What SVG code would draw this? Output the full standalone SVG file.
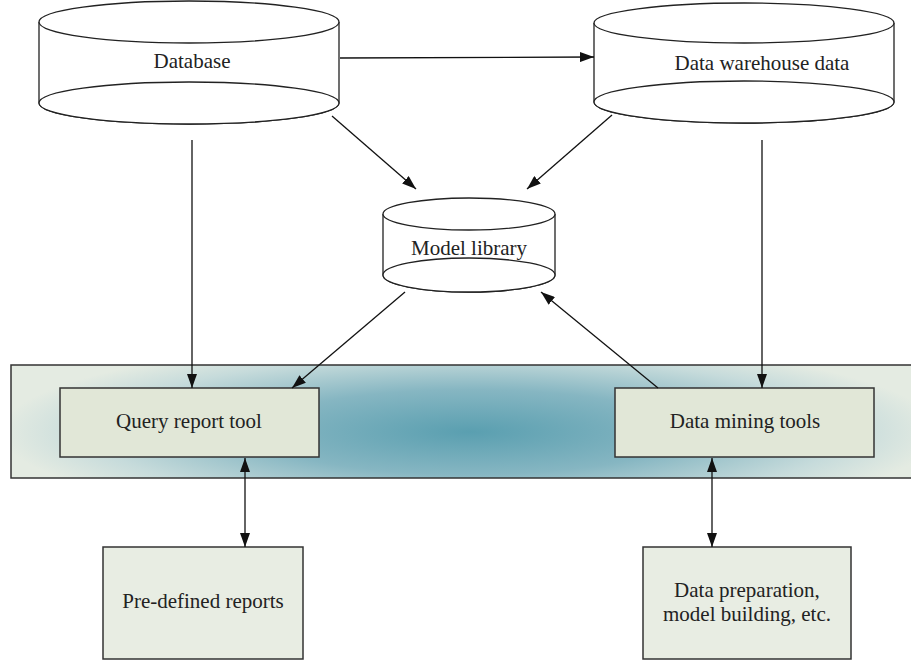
<svg xmlns="http://www.w3.org/2000/svg" width="911" height="663" viewBox="0 0 911 663">
<style>
.cyl{fill:#fff;stroke:#222;stroke-width:1.3}
.box{fill:#e1e7d7;stroke:#333;stroke-width:1.5}
.box2{fill:#e8ede3;stroke:#333;stroke-width:1.5}
.t{font-family:"Liberation Serif","Times New Roman",serif;font-size:21px;fill:#222;text-anchor:middle}
.c{stroke:#111;stroke-width:1.3;fill:none}
</style>
<defs>
<marker id="ah" viewBox="0 0 14 10" refX="14" refY="5" markerWidth="14" markerHeight="10" markerUnits="userSpaceOnUse" orient="auto-start-reverse">
<path d="M0,0 L14,5 L0,10 Z" fill="#111"/>
</marker>
<radialGradient id="bandg" cx="470" cy="432" r="470" gradientUnits="userSpaceOnUse" gradientTransform="translate(470 432) scale(1 0.2) translate(-470 -432)">
<stop offset="0" stop-color="#5a9fb0"/>
<stop offset="0.45" stop-color="#86b6c2"/>
<stop offset="0.8" stop-color="#c6dbdb"/>
<stop offset="1" stop-color="#e4ebe2"/>
</radialGradient>
</defs>

<g id="band">
<rect x="11" y="365" width="912" height="113" fill="url(#bandg)" stroke="#333" stroke-width="1.5"/>
</g>

<g id="database">
<path class="cyl" d="M39,22 L39,103 A150,21 0 0 0 339,103 L339,22"/>
<ellipse class="cyl" cx="189" cy="103" rx="150" ry="21"/>
<ellipse class="cyl" cx="189" cy="22" rx="150" ry="21"/>
<text class="t" x="192" y="68">Database</text>
</g>

<g id="warehouse">
<path class="cyl" d="M594,23 L594,102 A150,21 0 0 0 894,102 L894,23"/>
<ellipse class="cyl" cx="744" cy="102" rx="150" ry="21"/>
<ellipse class="cyl" cx="744" cy="23" rx="150" ry="20"/>
<text class="t" x="762" y="70">Data warehouse data</text>
</g>

<g id="modellib">
<path class="cyl" d="M383,214 L383,275 A86,17 0 0 0 555,275 L555,214"/>
<ellipse class="cyl" cx="469" cy="275" rx="86" ry="17"/>
<ellipse class="cyl" cx="469" cy="214" rx="86" ry="16"/>
<text class="t" x="469" y="255">Model library</text>
</g>

<g id="query">
<rect class="box" x="60" y="388" width="259" height="69"/>
<text class="t" x="189" y="428">Query report tool</text>
</g>

<g id="mining">
<rect class="box" x="615" y="388" width="259" height="69"/>
<text class="t" x="745" y="428">Data mining tools</text>
</g>

<g id="predefined">
<rect class="box2" x="103" y="547" width="200" height="112"/>
<text class="t" x="203" y="608">Pre-defined reports</text>
</g>

<g id="prep">
<rect class="box2" x="643" y="547" width="208" height="112"/>
<text class="t" x="747" y="597">Data preparation,</text>
<text class="t" x="747" y="621">model building, etc.</text>
</g>

<g id="connectors">
<line class="c" x1="340" y1="58" x2="594" y2="57" marker-end="url(#ah)"/>
<line class="c" x1="332" y1="116" x2="416" y2="189" marker-end="url(#ah)"/>
<line class="c" x1="612" y1="115" x2="527" y2="189" marker-end="url(#ah)"/>
<line class="c" x1="192" y1="140" x2="192" y2="388" marker-end="url(#ah)"/>
<line class="c" x1="762" y1="140" x2="762" y2="388" marker-end="url(#ah)"/>
<line class="c" x1="405" y1="292" x2="292" y2="388" marker-end="url(#ah)"/>
<line class="c" x1="658" y1="388" x2="541" y2="292" marker-end="url(#ah)"/>
<line class="c" x1="245" y1="458" x2="245" y2="547" marker-start="url(#ah)" marker-end="url(#ah)"/>
<line class="c" x1="712" y1="458" x2="712" y2="547" marker-start="url(#ah)" marker-end="url(#ah)"/>
</g>
</svg>
